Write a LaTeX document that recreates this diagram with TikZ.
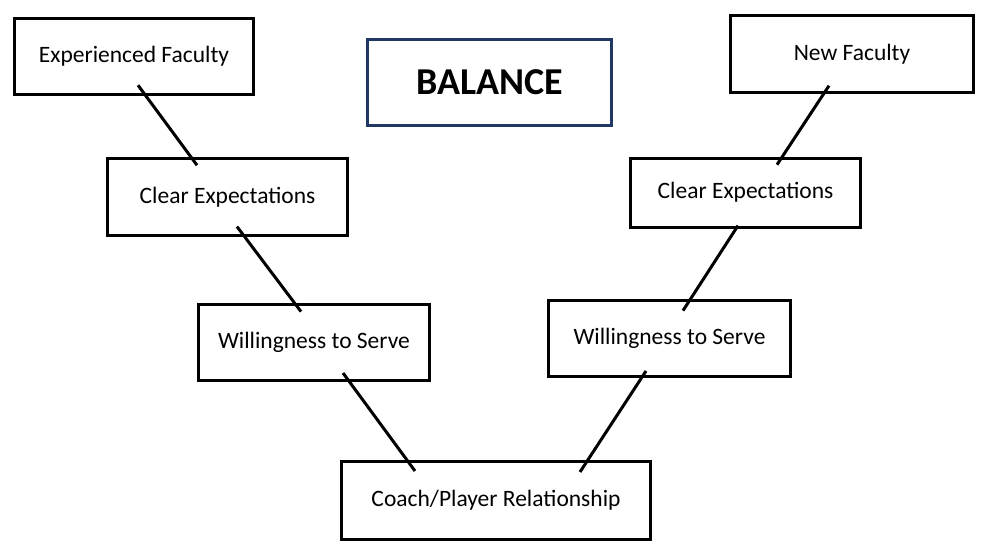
\documentclass[tikz,border=0pt]{standalone}
\usepackage{fontspec}
\setmainfont{Carlito}
\usetikzlibrary{positioning}
\definecolor{navyline}{RGB}{31,56,100}
\tikzset{
  box/.style={
    rectangle, draw=black, line width=2.9pt, fill=white,
    minimum width=239.5pt, minimum height=76.5pt,
    text centered, font=\fontsize{23.5}{27}\selectfont
  },
  title/.style={
    rectangle, draw=navyline, line width=2.6pt, fill=white,
    minimum width=244.5pt, minimum height=86.5pt,
    text centered, font=\bfseries\fontsize{38}{42}\selectfont
  },
  link/.style={
    line width=3pt, color=black
  }
}

\begin{document}
\begin{tikzpicture}[x=1pt, y=-1pt]
\useasboundingbox (0,0) rectangle (989,554);

% Left branch
\node[box] (expfac) at (134,56.5) {Experienced Faculty};
\node[box, below=61pt of expfac, xshift=93.5pt] (clearl) {Clear Expectations};
\node[box, minimum width=231pt, below=66pt of clearl, xshift=86.5pt] (willl) {Willingness to Serve};

% Bottom
\node[box, minimum width=309pt, minimum height=78pt, below=78pt of willl, xshift=182pt] (coach) {Coach/Player Relationship};

% Right branch
\node[box, minimum width=242pt, above=82pt of coach, xshift=173.5pt] (willr) {Willingness to Serve};
\node[box, minimum width=230pt, minimum height=69pt, above=70pt of willr, xshift=76pt] (clearr) {Clear Expectations};
\node[box, minimum width=243pt, above=63pt of clearr, xshift=106.5pt] (newfac) {New Faculty};

% Title
\node[title] (balance) at (489.5,82.5) {BALANCE};

% Links
\draw[link] ([xshift=4pt,yshift=11pt]expfac.south) -- ([xshift=-30.5pt,yshift=-8pt]clearl.north);
\draw[link] ([xshift=9.5pt,yshift=10pt]clearl.south) -- ([xshift=-13pt,yshift=-9pt]willl.north);
\draw[link] ([xshift=29pt,yshift=9pt]willl.south) -- ([xshift=-81pt,yshift=-11pt]coach.north);
\draw[link] ([xshift=-23pt,yshift=8pt]newfac.south) -- ([xshift=31.5pt,yshift=-8pt]clearr.north);
\draw[link] ([xshift=-7.5pt,yshift=3pt]clearr.south) -- ([xshift=13.5pt,yshift=-12pt]willr.north);
\draw[link] ([xshift=-23.5pt,yshift=7pt]willr.south) -- ([xshift=84pt,yshift=-12pt]coach.north);

\end{tikzpicture}
\end{document}
